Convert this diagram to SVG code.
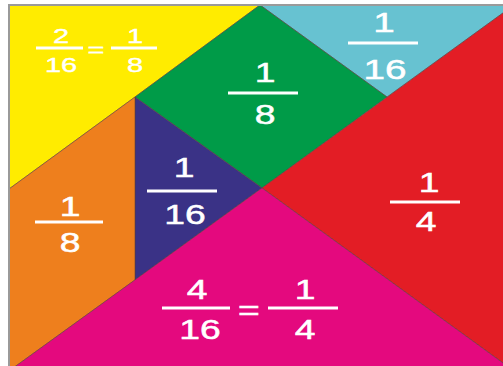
<svg xmlns="http://www.w3.org/2000/svg" width="503" height="366" viewBox="0 0 503 366">
<style>
.p{stroke:#5a3a3a;stroke-opacity:0.55;stroke-width:1;stroke-linejoin:round}
.t{font-family:"Liberation Sans",Arial,sans-serif;fill:#fff;stroke:#fff;stroke-width:0.5;text-anchor:middle;font-size:27px}
.s{font-size:21px;stroke-width:0.4}
.b{fill:#fff}
</style>
<rect x="0" y="0" width="503" height="366" fill="#fff"/>
<g id="yellow">
<polygon class="p" points="9,5 260,5 135,97 9,189" fill="#FFEC00"/>
<text class="t s" transform="translate(61,43) scale(1.38,1)">2</text>
<rect class="b" x="36" y="46.5" width="47" height="3"/>
<text class="t s" transform="translate(61,72) scale(1.38,1)">16</text>
<text class="t s" transform="translate(96,57) scale(1.38,1)">=</text>
<rect class="b" x="111" y="46.5" width="46" height="3"/>
<text class="t s" transform="translate(135,43) scale(1.38,1)">1</text>
<text class="t s" transform="translate(135,72) scale(1.38,1)">8</text>
</g>
<g id="cyan">
<polygon class="p" points="260,5 514,5 387,97" fill="#67C2D1"/>
<text class="t" style="font-size:28px" transform="translate(384,32) scale(1.38,1)">1</text>
<rect class="b" x="348" y="41.5" width="70" height="3"/>
<text class="t" style="font-size:28px" transform="translate(385,79) scale(1.38,1)">16</text>
</g>
<g id="green">
<polygon class="p" points="260,5 387,97 262,188 135,97" fill="#009B48"/>
<text class="t" transform="translate(265,82) scale(1.38,1)">1</text>
<rect class="b" x="228" y="91.5" width="70" height="3"/>
<text class="t" transform="translate(265,124) scale(1.38,1)">8</text>
</g>
<g id="red">
<polygon class="p" points="514,5 514,371 262,188" fill="#E31D25"/>
<text class="t" transform="translate(429,192) scale(1.38,1)">1</text>
<rect class="b" x="390" y="200.5" width="70" height="3"/>
<text class="t" transform="translate(426,231) scale(1.38,1)">4</text>
</g>
<g id="blue">
<polygon class="p" points="135,97 262,188 135,280" fill="#3A3286"/>
<text class="t" transform="translate(184,177) scale(1.38,1)">1</text>
<rect class="b" x="147" y="189.5" width="70" height="3"/>
<text class="t" transform="translate(185,224) scale(1.38,1)">16</text>
</g>
<g id="orange">
<polygon class="p" points="9,189 135,97 135,280 9,371" fill="#EE7F1D"/>
<text class="t" transform="translate(70,216) scale(1.38,1)">1</text>
<rect class="b" x="35" y="220.5" width="68" height="3"/>
<text class="t" transform="translate(70,252) scale(1.38,1)">8</text>
</g>
<g id="pink">
<polygon class="p" points="9,371 262,188 514,371" fill="#E4097E"/>
<text class="t" transform="translate(197,299) scale(1.38,1)">4</text>
<rect class="b" x="162" y="306.5" width="68" height="3"/>
<text class="t" transform="translate(200,339) scale(1.38,1)">16</text>
<text class="t" transform="translate(249,320) scale(1.38,1)">=</text>
<rect class="b" x="268" y="306.5" width="70" height="3"/>
<text class="t" transform="translate(305,299) scale(1.38,1)">1</text>
<text class="t" transform="translate(305,339) scale(1.38,1)">4</text>
</g>
<rect x="9" y="5" width="505" height="366" fill="none" stroke="#9a9a9a" stroke-width="2"/>
</svg>
